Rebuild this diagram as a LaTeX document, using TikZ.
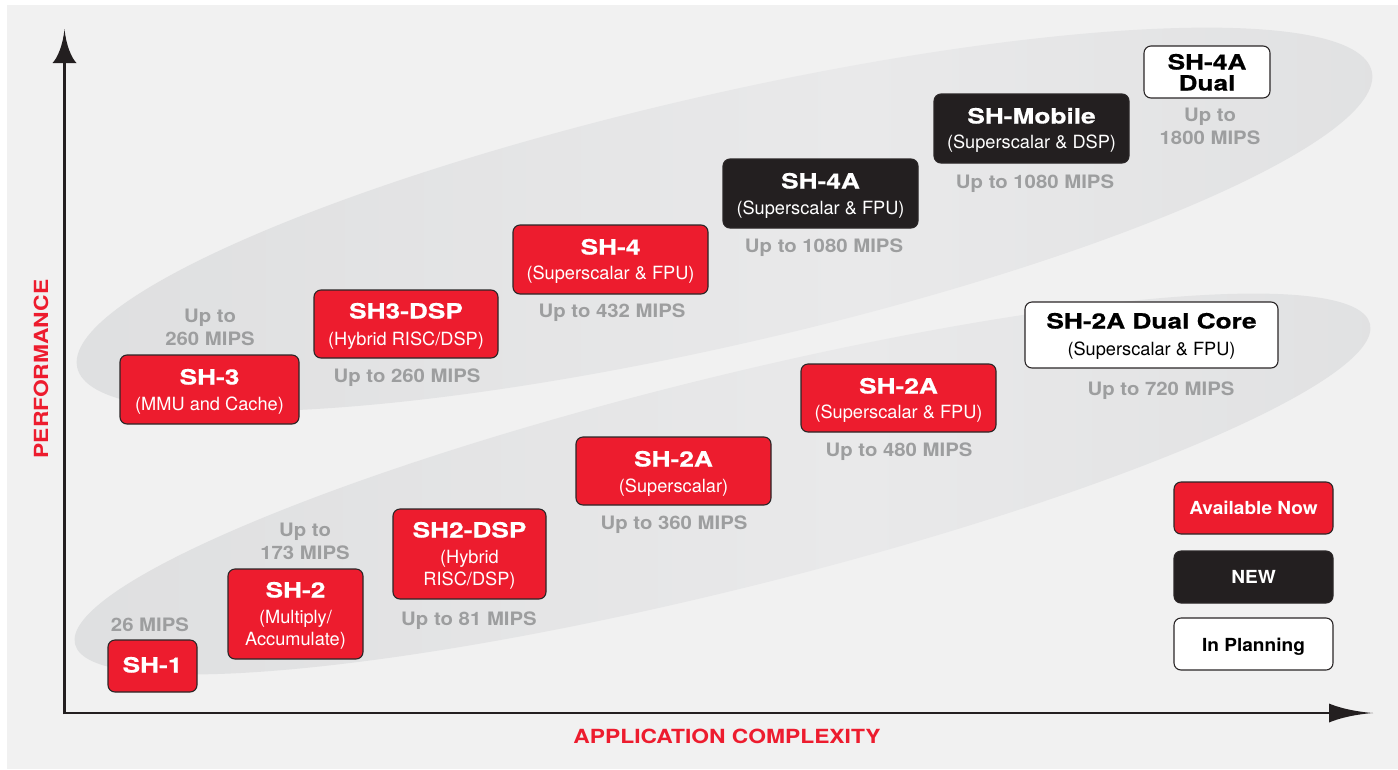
\documentclass[tikz,border=0pt]{standalone}
\usepackage{fontspec}
\usetikzlibrary{calc}
\setmainfont{TeX Gyre Heros}
\newfontfamily\ttlfont{TeX Gyre Heros}[FakeStretch=1.25,FakeBold=0.6]
\newfontfamily\axfont{TeX Gyre Heros}[FakeStretch=1.17]
\newfontfamily\mipsfont{TeX Gyre Heros}[FakeStretch=1.1]
\newfontfamily\legfont{TeX Gyre Heros}[FakeStretch=1.06]
\definecolor{shred}{HTML}{ED1C2E}
\definecolor{shblack}{HTML}{231F20}
\definecolor{edge}{HTML}{2A2627}
\definecolor{mipsgray}{HTML}{9D9E9F}
\definecolor{bggray}{HTML}{F1F1F1}
\definecolor{elA}{HTML}{DADBDC}
\definecolor{elB}{HTML}{E9E9EA}
\pgfdeclarehorizontalshading{ellsh}{100bp}{color(0bp)=(elA); color(30bp)=(elA!60!elB); color(55bp)=(elB); color(80bp)=(elA!70!elB); color(100bp)=(elA)}
\tikzset{
  bx/.style={draw=edge, line width=1.1pt, rounded corners=7pt, inner sep=0pt},
  rbox/.style={bx, fill=shred},
  kbox/.style={bx, fill=shblack},
  wbox/.style={bx, fill=white},
  ttl/.style={anchor=base, inner sep=0pt, font=\ttlfont\bfseries\fontsize{21}{24}\selectfont},
  sub/.style={anchor=base, inner sep=0pt, font=\fontsize{18.2}{22}\selectfont},
  mips/.style={anchor=base, inner sep=0pt, text=mipsgray, font=\mipsfont\bfseries\fontsize{18.5}{22}\selectfont},
  leg/.style={anchor=base, inner sep=0pt, font=\legfont\bfseries\fontsize{18}{22}\selectfont},
  axlab/.style={anchor=base, inner sep=0pt, text=shred, font=\axfont\bfseries\fontsize{19.5}{22}\selectfont},
  axis/.style={draw=shblack, line width=2.6pt},
  head/.style={fill=shblack},
}
\begin{document}
\begin{tikzpicture}[x=1pt,y=-1pt]
\useasboundingbox (0,0) rectangle (1398,769);
\fill[white] (0,0) rectangle (1398,769);
\fill[bggray] (7,5) rectangle (1398,769);
% ellipses
\shade[shading=ellsh, rotate around={12.9:(724.5,219.5)}] (724.5,219.5) ellipse [x radius=664, y radius=125];
\shade[shading=ellsh, rotate around={13.9:(722.5,484)}] (722.5,484) ellipse [x radius=667, y radius=106];
% axes
\coordinate (O) at (64.5,713);
\coordinate (Yb) at (64.5,62);
\coordinate (Yt) at (64.5,29);
\coordinate (Xb) at (1330,713);
\coordinate (Xt) at (1373,713);
\draw[axis] (64.5,714.3) -- (Yb);
\draw[axis] (63.2,713) -- (Xb);
\fill[head] (Yt) .. controls ($(Yt)+(-1.5,16)$) and ($(Yt)+(-7,29)$) .. ($(Yb)+(-12,1)$) -- ($(Yb)+(12,1)$) .. controls ($(Yt)+(7,29)$) and ($(Yt)+(1.5,16)$) .. (Yt) -- cycle;
\fill[head] (Xt) .. controls ($(Xt)+(-20,-1.5)$) and ($(Xt)+(-36,-6)$) .. ($(Xb)+(-1,-9.5)$) -- ($(Xb)+(-1,9.5)$) .. controls ($(Xt)+(-36,6)$) and ($(Xt)+(-20,1.5)$) .. (Xt) -- cycle;
\node[axlab] (xlab) at (727,743) {APPLICATION COMPLEXITY};
\node[axlab, rotate=90] (ylab) at (48,369) {PERFORMANCE};
% lower family
\node[rbox, minimum width=89, minimum height=52] (sh1) at (152.5,666) {};
\node[ttl, text=white] (sh1t) at (152.5,672.5) {SH-1};
\node[mips] (sh1m) at (150,631.7) {26 MIPS};
\node[rbox, minimum width=135, minimum height=90] (sh2) at (295.5,614) {};
\node[ttl, text=white] (sh2t) at (295.5,597.5) {SH-2};
\node[sub, text=white] (sh2s1) at (295.5,623.5) {(Multiply/};
\node[sub, text=white] (sh2s2) at (295.5,645.5) {Accumulate)};
\node[mips] (sh2m1) at (305,536.7) {Up to};
\node[mips] (sh2m2) at (305,559.7) {173 MIPS};
\node[rbox, minimum width=153, minimum height=90] (sh2dsp) at (469.5,554) {};
\node[ttl, text=white] (sh2dspt) at (469.5,537.5) {SH2-DSP};
\node[sub, text=white] (sh2dsps1) at (469.5,563.5) {(Hybrid};
\node[sub, text=white] (sh2dsps2) at (469.5,585.5) {RISC/DSP)};
\node[mips] (sh2dspm) at (469,625.7) {Up to 81 MIPS};
\node[rbox, minimum width=195, minimum height=68] (sh2a) at (673.5,471) {};
\node[ttl, text=white] (sh2at) at (673.5,466.5) {SH-2A};
\node[sub, text=white] (sh2as) at (673.5,492.5) {(Superscalar)};
\node[mips] (sh2am) at (674,529.7) {Up to 360 MIPS};
\node[rbox, minimum width=195, minimum height=68] (sh2af) at (898.5,398) {};
\node[ttl, text=white] (sh2aft) at (898.5,393.5) {SH-2A};
\node[sub, text=white] (sh2afs) at (898.5,418.5) {(Superscalar \& FPU)};
\node[mips] (sh2afm) at (899,456.7) {Up to 480 MIPS};
\node[wbox, minimum width=253, minimum height=66] (sh2dc) at (1151.5,335) {};
\node[ttl, text=black] (sh2dct) at (1151.5,328.5) {SH-2A Dual Core};
\node[sub, text=black] (sh2dcs) at (1151.5,355.5) {(Superscalar \& FPU)};
\node[mips] (sh2dcm) at (1161,395.7) {Up to 720 MIPS};
% upper family
\node[rbox, minimum width=179, minimum height=69] (sh3) at (209.5,389.5) {};
\node[ttl, text=white] (sh3t) at (209.5,384.5) {SH-3};
\node[sub, text=white] (sh3s) at (209.5,410.5) {(MMU and Cache)};
\node[mips] (sh3m1) at (210,322.7) {Up to};
\node[mips] (sh3m2) at (210,345.7) {260 MIPS};
\node[rbox, minimum width=184, minimum height=68] (sh3dsp) at (406,324) {};
\node[ttl, text=white] (sh3dspt) at (406,318.5) {SH3-DSP};
\node[sub, text=white] (sh3dsps) at (406,345.5) {(Hybrid RISC/DSP)};
\node[mips] (sh3dspm) at (407,382.7) {Up to 260 MIPS};
\node[rbox, minimum width=195, minimum height=69] (sh4) at (610.5,259.5) {};
\node[ttl, text=white] (sh4t) at (610.5,254.5) {SH-4};
\node[sub, text=white] (sh4s) at (610.5,279.5) {(Superscalar \& FPU)};
\node[mips] (sh4m) at (612,317.7) {Up to 432 MIPS};
\node[kbox, minimum width=195, minimum height=69] (sh4a) at (820.5,193.5) {};
\node[ttl, text=white] (sh4at) at (820.5,188.5) {SH-4A};
\node[sub, text=white] (sh4as) at (820.5,214.5) {(Superscalar \& FPU)};
\node[mips] (sh4am) at (824,252.7) {Up to 1080 MIPS};
\node[kbox, minimum width=195, minimum height=69] (shmob) at (1031.5,128.5) {};
\node[ttl, text=white] (shmobt) at (1031.5,123.5) {SH-Mobile};
\node[sub, text=white] (shmobs) at (1031.5,148.5) {(Superscalar \& DSP)};
\node[mips] (shmobm) at (1035,188.7) {Up to 1080 MIPS};
\node[wbox, minimum width=126, minimum height=52] (sh4ad) at (1207,72) {};
\node[ttl, text=black] (sh4adt1) at (1207,69.5) {SH-4A};
\node[ttl, text=black] (sh4adt2) at (1207,90.5) {Dual};
\node[mips] (sh4adm1) at (1210,121.7) {Up to};
\node[mips] (sh4adm2) at (1210,144.7) {1800 MIPS};
% legend
\node[rbox, minimum width=159, minimum height=52] (lav) at (1253.5,508) {};
\node[leg, text=white] (lavt) at (1253.5,514) {Available Now};
\node[kbox, minimum width=159, minimum height=52] (lnew) at (1253.5,577) {};
\node[leg, text=white] (lnewt) at (1253.5,583) {NEW};
\node[wbox, minimum width=159, minimum height=52] (lpl) at (1253.5,644) {};
\node[leg, text=black] (lplt) at (1253.5,651) {In Planning};
\end{tikzpicture}
\end{document}
